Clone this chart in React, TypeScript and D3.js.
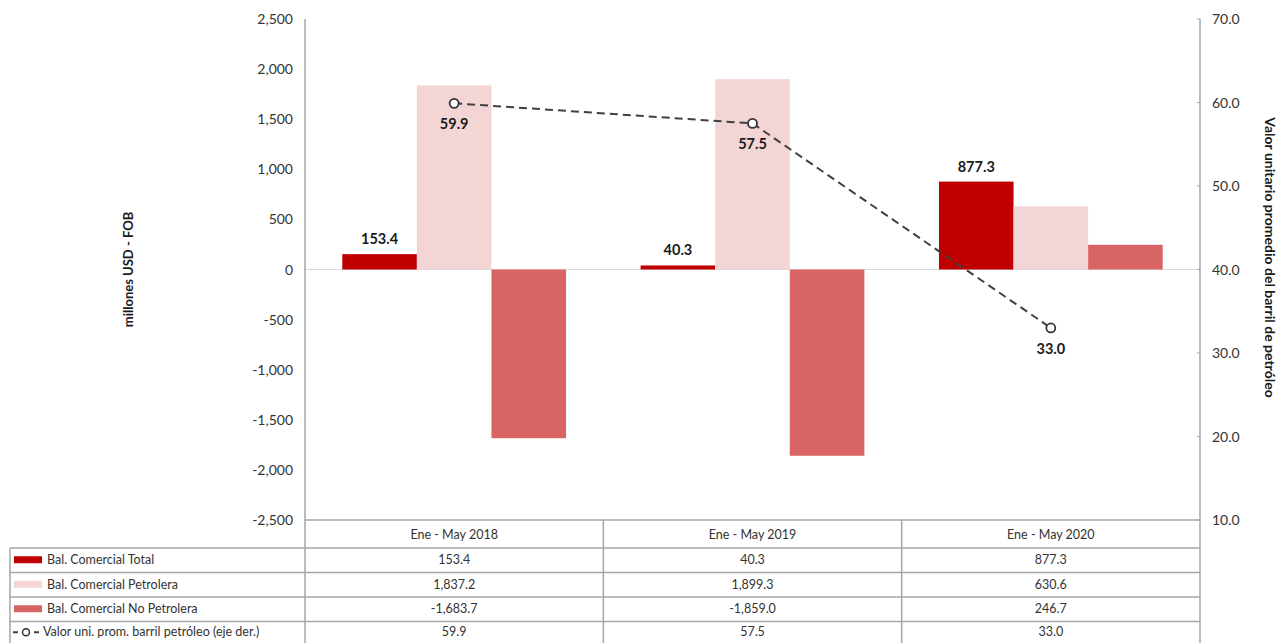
import React from "react";
import * as d3 from "d3";

const categories = ["Ene - May 2018", "Ene - May 2019", "Ene - May 2020"];
const seriesNames = [
  "Bal. Comercial Total",
  "Bal. Comercial Petrolera",
  "Bal. Comercial No Petrolera",
];
const balTotal = [153.4, 40.3, 877.3];
const balPetrolera = [1837.2, 1899.3, 630.6];
const balNoPetrolera = [-1683.7, -1859.0, 246.7];
const barrilPrice = [59.9, 57.5, 33.0];
const lineName = "Valor uni. prom. barril petróleo (eje der.)";
const leftTicks = [2500, 2000, 1500, 1000, 500, 0, -500, -1000, -1500, -2000, -2500];
const rightTicks = [70, 60, 50, 40, 30, 20, 10];
const colors = ["#C00000", "#F3D5D5", "#D96464"];

const W = 1278;
const H = 643;
const left = 305;
const right = 1200;
const top = 19;
const bottom = 520;
const font = "Lato, 'Open Sans', sans-serif";

const hy = (s: string) => s.replace(/\u2212/g, "-");

export default function App() {
  const x0 = d3.scaleBand<string>().domain(categories).range([left, right]).padding(0);
  const x1 = d3
    .scaleBand<string>()
    .domain(seriesNames)
    .range([0, x0.bandwidth()])
    .paddingInner(0)
    .paddingOuter(0.5);
  const yL = d3.scaleLinear().domain([-2500, 2500]).range([bottom, top]);
  const yR = d3.scaleLinear().domain([10, 70]).range([bottom, top]);
  const series = [balTotal, balPetrolera, balNoPetrolera];
  const fmt = (v: number) => hy(d3.format(",.1f")(v));
  const fmtTick = (v: number) => hy(d3.format(",")(v));

  const linePts = categories.map((c, i) => [x0(c)! + x0.bandwidth() / 2, yR(barrilPrice[i])] as [number, number]);
  const linePath = d3.line()(linePts) || "";

  const rowTops = [548, 572.5, 597, 621.5, 646];
  const gridColor = "#A6A6A6";

  return (
    <svg width={W} height={H} style={{ position: "absolute", left: 0, top: 0, background: "#fff" }} fontFamily={font}>
      <line x1={left} x2={right} y1={yL(0)} y2={yL(0)} stroke="#D9D9D9" strokeWidth={1} />
      {categories.map((c, ci) =>
        series.map((s, si) => {
          const v = s[ci];
          const y = Math.min(yL(v), yL(0));
          const h = Math.abs(yL(v) - yL(0));
          return (
            <rect
              key={c + si}
              x={x0(c)! + x1(seriesNames[si])!}
              y={y}
              width={x1.bandwidth()}
              height={h}
              fill={colors[si]}
            />
          );
        })
      )}
      {categories.map((c, ci) => (
        <text
          key={"tl" + ci}
          x={x0(c)! + x1(seriesNames[0])! + x1.bandwidth() / 2}
          y={yL(balTotal[ci]) - 10}
          textAnchor="middle"
          fontSize={14.5}
          fontWeight="bold"
          fill="#1a1a1a"
        >
          {fmt(balTotal[ci])}
        </text>
      ))}
      <path d={linePath} fill="none" stroke="#404040" strokeWidth={2} strokeDasharray="8,5" />
      {linePts.map((p, i) => (
        <g key={"pt" + i}>
          <circle cx={p[0]} cy={p[1]} r={4.5} fill="#fff" stroke="#333" strokeWidth={1.8} />
          <text x={p[0]} y={p[1] + 26} textAnchor="middle" fontSize={14.5} fontWeight="bold" fill="#1a1a1a">
            {fmt(barrilPrice[i])}
          </text>
        </g>
      ))}
      <line x1={left} x2={left} y1={top} y2={bottom} stroke={gridColor} strokeWidth={1.5} />
      {leftTicks.map((t) => (
        <text key={"lt" + t} x={left - 12} y={yL(t) + 5} textAnchor="end" fontSize={14} fill="#333">
          {fmtTick(t)}
        </text>
      ))}
      <text
        transform={`translate(133,${(top + bottom) / 2}) rotate(-90)`}
        textAnchor="middle"
        fontSize={13}
        fontWeight="bold"
        fill="#1a1a1a"
      >
        millones USD - FOB
      </text>
      <line x1={right} x2={right} y1={top} y2={H} stroke={gridColor} strokeWidth={1.5} />
      {rightTicks.map((t) => (
        <g key={"rt" + t}>
          <line x1={right - 3} x2={right} y1={yR(t)} y2={yR(t)} stroke={gridColor} />
          <text x={right + 12} y={yR(t) + 5} textAnchor="start" fontSize={14} fill="#333">
            {d3.format(".1f")(t)}
          </text>
        </g>
      ))}
      <text
        transform={`translate(1265,${(top + bottom) / 2 - 12}) rotate(90)`}
        textAnchor="middle"
        fontSize={14}
        fontWeight="bold"
        fill="#1a1a1a"
      >
        Valor unitario promedio del barril de petróleo
      </text>
      <line x1={left} x2={right} y1={bottom} y2={bottom} stroke={gridColor} strokeWidth={1.5} />
      {categories.map((c) => (
        <line key={"v" + c} x1={x0(c)!} x2={x0(c)!} y1={bottom} y2={H} stroke={gridColor} strokeWidth={1.5} />
      ))}
      <line x1={10} x2={10} y1={rowTops[0]} y2={H} stroke={gridColor} strokeWidth={1.5} />
      {rowTops.slice(0, 4).map((y) => (
        <line key={"h" + y} x1={10} x2={right} y1={y} y2={y} stroke={gridColor} strokeWidth={1.5} />
      ))}
      {categories.map((c) => (
        <text key={"ch" + c} x={x0(c)! + x0.bandwidth() / 2} y={539} textAnchor="middle" fontSize={12.5} fill="#333">
          {c}
        </text>
      ))}
      {[...series, barrilPrice].map((s, ri) => {
        const ty = (rowTops[ri] + Math.min(rowTops[ri + 1], 643)) / 2 + 4;
        return (
          <g key={"row" + ri}>
            {ri < 3 ? (
              <rect x={14} y={ty - 8} width={28} height={7} fill={colors[ri]} />
            ) : (
              <g>
                <line x1={13} x2={18} y1={ty - 4} y2={ty - 4} stroke="#404040" strokeWidth={2} />
                <circle cx={26} cy={ty - 4} r={3.5} fill="#fff" stroke="#333" strokeWidth={1.5} />
                <line x1={34} x2={39} y1={ty - 4} y2={ty - 4} stroke="#404040" strokeWidth={2} />
              </g>
            )}
            <text x={ri < 3 ? 47 : 43} y={ty} fontSize={12.5} fill="#333">
              {ri < 3 ? seriesNames[ri] : lineName}
            </text>
            {categories.map((c, ci) => (
              <text key={c} x={x0(c)! + x0.bandwidth() / 2} y={ty} textAnchor="middle" fontSize={12.5} fill="#333">
                {fmt(s[ci])}
              </text>
            ))}
          </g>
        );
      })}
    </svg>
  );
}
